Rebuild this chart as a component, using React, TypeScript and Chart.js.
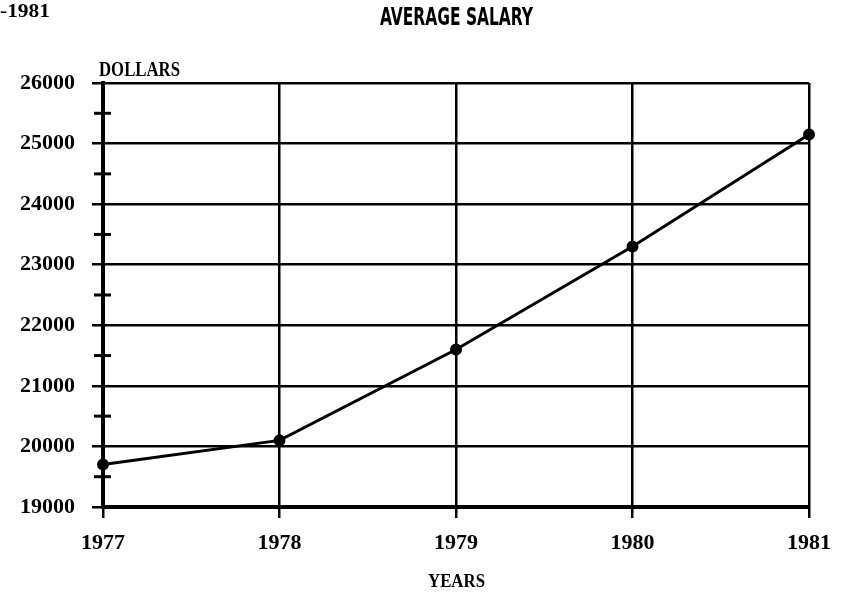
import React, { useEffect, useRef } from "react";
import { Chart, registerables } from "chart.js";

Chart.register(...registerables);

const years = ["1977", "1978", "1979", "1980", "1981"];
const salary = [19700, 20100, 21600, 23300, 25150];
const minorTicks = [19500, 20500, 21500, 22500, 23500, 24500, 25500];
const titleText = "AVERAGE SALARY";
const cornerText = "-1981";
const yAxisTitle = "DOLLARS";
const xAxisTitle = "YEARS";

function drawFitted(ctx: CanvasRenderingContext2D, text: string, font: string, x: number, y: number, width: number) {
  ctx.save();
  ctx.font = font;
  ctx.textBaseline = "middle";
  ctx.textAlign = "left";
  const w = ctx.measureText(text).width;
  const s = width / w;
  ctx.translate(x, y);
  ctx.scale(s, 1);
  ctx.fillStyle = "#000";
  ctx.fillText(text, 0, 0);
  ctx.restore();
}

const decorPlugin = {
  id: "decor",
  afterDraw(chart: any) {
    const ctx = chart.ctx as CanvasRenderingContext2D;
    const y = chart.scales.y;
    const area = chart.chartArea;
    ctx.save();
    ctx.strokeStyle = "#000";
    ctx.lineWidth = 3;
    for (const v of minorTicks) {
      const py = y.getPixelForValue(v);
      ctx.beginPath();
      ctx.moveTo(area.left - 9, py);
      ctx.lineTo(area.left + 8, py);
      ctx.stroke();
    }
    ctx.restore();
    drawFitted(ctx, titleText, "bold 24px 'DejaVu Sans Condensed', 'DejaVu Sans'", 380, 19, 153);
    drawFitted(ctx, cornerText, "bold 18px 'Liberation Serif'", 0, 12, 50);
    drawFitted(ctx, yAxisTitle, "bold 20px 'Liberation Serif'", 99, 71, 81);
    drawFitted(ctx, xAxisTitle, "bold 19px 'Liberation Serif'", 428, 582, 57);
  },
};

export default function App() {
  const ref = useRef<HTMLCanvasElement | null>(null);
  useEffect(() => {
    if (!ref.current) return;
    const chart = new Chart(ref.current, {
      type: "line",
      data: {
        labels: years,
        datasets: [
          {
            data: salary,
            borderColor: "#000",
            backgroundColor: "#000",
            borderWidth: 3,
            pointRadius: 4.5,
            pointBackgroundColor: "#000",
            pointBorderColor: "#000",
            tension: 0,
            fill: false,
          },
        ],
      },
      options: {
        animation: false,
        responsive: false,
        maintainAspectRatio: false,
        layout: { padding: { top: 83, right: 35, left: 0, bottom: 0 } },
        plugins: {
          legend: { display: false },
          title: { display: false },
          tooltip: { enabled: false },
        },
        scales: {
          x: {
            type: "category",
            offset: false,
            afterFit: (s: any) => {
              s.height = 87;
            },
            grid: { color: "#000", lineWidth: 2.5, tickLength: 11, drawOnChartArea: true },
            border: { color: "#000", width: 4 },
            ticks: {
              color: "#000",
              padding: 12,
              maxRotation: 0,
              font: { family: "'Liberation Serif'", weight: "bold", size: 22 },
            },
          },
          y: {
            min: 19000,
            max: 26000,
            afterFit: (s: any) => {
              s.width = 103;
            },
            grid: { color: "#000", lineWidth: 2.5, tickLength: 11 },
            border: { color: "#000", width: 4 },
            ticks: {
              stepSize: 1000,
              color: "#000",
              padding: 17,
              callback: (v: any) => String(v),
              font: { family: "'Liberation Serif'", weight: "bold", size: 22 },
            },
          },
        },
      },
      plugins: [decorPlugin],
    });
    return () => chart.destroy();
  }, []);
  return (
    <div style={{ position: "fixed", left: 0, top: 0, width: 844, height: 594, background: "#fff" }}>
      <canvas ref={ref} width={844} height={594} style={{ width: 844, height: 594 }} />
    </div>
  );
}
